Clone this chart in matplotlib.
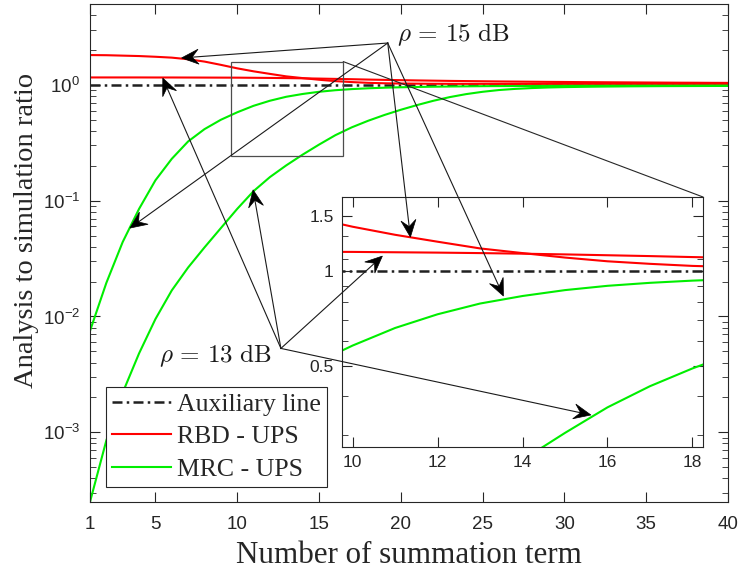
import numpy as np
import matplotlib
matplotlib.use('Agg')
import matplotlib.pyplot as plt
from matplotlib.patches import Rectangle, Polygon, ConnectionPatch
from matplotlib.lines import Line2D
from matplotlib.ticker import FixedLocator, FixedFormatter, LogLocator, NullFormatter

plt.rcParams['font.family'] = ['Liberation Sans', 'DejaVu Sans']
plt.rcParams['mathtext.fontset'] = 'cm'

# ---------------------------------------------------------------- data
terms = np.arange(1, 41)

# RBD - UPS, rho = 15 dB (decreasing one) and rho = 13 dB (flat one)
rbd_15 = [1.81, 1.805, 1.79, 1.775, 1.75, 1.72, 1.665, 1.59, 1.49, 1.39,
          1.31, 1.245, 1.185, 1.145, 1.108, 1.078, 1.058, 1.042, 1.033, 1.028,
          1.025, 1.023, 1.022, 1.021, 1.021, 1.02, 1.02, 1.02, 1.02, 1.02,
          1.02, 1.02, 1.02, 1.02, 1.02, 1.02, 1.02, 1.02, 1.02, 1.02]
rbd_13 = [1.16, 1.16, 1.16, 1.16, 1.159, 1.159, 1.158, 1.157, 1.156, 1.155,
          1.152, 1.149, 1.145, 1.14, 1.134, 1.127, 1.12, 1.112, 1.105, 1.099,
          1.093, 1.088, 1.083, 1.079, 1.075, 1.071, 1.068, 1.065, 1.062, 1.06,
          1.057, 1.055, 1.053, 1.051, 1.049, 1.047, 1.045, 1.044, 1.042, 1.041]

# MRC - UPS
mrc_15 = [0.0075, 0.0195, 0.044, 0.085, 0.15, 0.23, 0.325, 0.415, 0.50, 0.58,
          0.66, 0.73, 0.79, 0.835, 0.872, 0.90, 0.92, 0.935, 0.946, 0.954,
          0.96, 0.965, 0.969, 0.972, 0.975, 0.977, 0.978, 0.979, 0.98, 0.981,
          0.982, 0.982, 0.983, 0.983, 0.984, 0.984, 0.984, 0.985, 0.985, 0.985]
mrc_13 = [0.00025, 0.00085, 0.0022, 0.0048, 0.0095, 0.0168, 0.0265, 0.0395, 0.058, 0.085,
          0.121, 0.16, 0.202, 0.25, 0.305, 0.368, 0.43, 0.49, 0.55, 0.61,
          0.67, 0.73, 0.785, 0.833, 0.872, 0.903, 0.924, 0.939, 0.95, 0.957,
          0.962, 0.966, 0.969, 0.972, 0.974, 0.976, 0.977, 0.978, 0.979, 0.98]

aux = np.ones(len(terms))

legend_labels = ['Auxiliary line', 'RBD - UPS', 'MRC - UPS']
x_ticks = [1, 5, 10, 15, 20, 25, 30, 35, 40]
inset_x_ticks = [10, 12, 14, 16, 18]
inset_y_ticks = [0.5, 1, 1.5]
inset_y_labels = ['0.5', '1', '1.5']

axis_col = '0.15'
serif = ['Liberation Serif', 'DejaVu Serif']

# ---------------------------------------------------------------- figure
fig = plt.figure(figsize=(7.4, 5.76), dpi=100)
ax = fig.add_axes([0.1216, 0.1285, 0.8622, 0.8646])


def draw_curves(a):
    a.plot(terms, aux, color='#202020', lw=1.8, dashes=(4, 1.7, 1, 1.7), label=legend_labels[0])
    a.plot(terms, rbd_15, '-', color='red', lw=1.5, label=legend_labels[1])
    a.plot(terms, rbd_13, '-', color='red', lw=1.5)
    a.plot(terms, mrc_15, '-', color='#00ee00', lw=1.5, label=legend_labels[2])
    a.plot(terms, mrc_13, '-', color='#00ee00', lw=1.5)


def style_axes(a, size):
    a.tick_params(which='both', direction='in', top=True, right=True,
                  color=axis_col, labelcolor=axis_col, labelsize=size)
    a.tick_params(axis='x', pad=10)
    a.tick_params(axis='y', pad=7)
    a.tick_params(which='major', length=7)
    a.tick_params(which='minor', length=4)
    for s in a.spines.values():
        s.set_color(axis_col)
        s.set_linewidth(0.8)


draw_curves(ax)
ax.set_yscale('log')
ax.set_xlim(1, 40)
ax.set_ylim(2.5e-4, 5)
ax.set_xticks(x_ticks)
ax.yaxis.set_major_locator(LogLocator(base=10, numticks=10))
ax.yaxis.set_minor_locator(LogLocator(base=10, subs=np.arange(2, 10), numticks=20))
ax.yaxis.set_minor_formatter(NullFormatter())
style_axes(ax, 13.5)
ax.set_xlabel('Number of summation term', family=serif, fontsize=22.3, color=axis_col, va='top')
ax.xaxis.set_label_coords(0.5, -0.078)
ax.set_ylabel('Analysis to simulation ratio', family=serif, fontsize=20.5, color=axis_col)
ax.yaxis.set_label_coords(-0.080, 0.546)

leg = ax.legend(loc='lower left', bbox_to_anchor=(0.025, 0.030), prop={'family': serif, 'size': 18.5},
                fancybox=False, framealpha=1, edgecolor=axis_col, handlelength=2.3,
                handletextpad=0.2, labelspacing=0.36, borderpad=0.25, borderaxespad=0)
leg.get_frame().set_linewidth(0.8)
for t in leg.get_texts():
    t.set_color(axis_col)

# zoom rectangle
rect = (9.6, 0.241, 16.48, 1.59)
ax.add_patch(Rectangle((rect[0], rect[1]), rect[2] - rect[0], rect[3] - rect[1],
                       fill=False, edgecolor='0.3', lw=0.9, zorder=5))

# ---------------------------------------------------------------- inset
axin = fig.add_axes([0.4622, 0.224, 0.4878, 0.434])
draw_curves(axin)
axin.set_yscale('log')
axin.set_xlim(9.75, 18.25)
axin.set_ylim(0.275, 1.73)
axin.set_xticks(inset_x_ticks)
axin.yaxis.set_major_locator(FixedLocator(inset_y_ticks))
axin.yaxis.set_major_formatter(FixedFormatter(inset_y_labels))
axin.yaxis.set_minor_locator(FixedLocator([0.3, 0.4, 0.6, 0.7, 0.8, 0.9, 1.1, 1.3]))
axin.yaxis.set_minor_formatter(NullFormatter())
style_axes(axin, 12.5)
axin.tick_params(axis='both', pad=6)
axin.set_zorder(3)

con = ConnectionPatch(xyA=(rect[2], rect[3]), coordsA=ax.transData,
                      xyB=(1, 1), coordsB=axin.transAxes, color='0.15', lw=0.8)
fig.add_artist(con)

# ---------------------------------------------------------------- annotations
to_fig = fig.transFigure.inverted()


def arrow(src, tip_ax, tip):
    p0 = ax.transData.transform(src)
    p1 = tip_ax.transData.transform(tip)
    u = (p1 - p0) / np.hypot(*(p1 - p0))
    n = np.array([-u[1], u[0]])
    L, W = 17, 7.5
    head = [p1, p1 - L * u + W * n, p1 - 0.62 * L * u, p1 - L * u - W * n]
    line = to_fig.transform([p0, p1 - 0.62 * L * u])
    fig.add_artist(Line2D(line[:, 0], line[:, 1], color='0.1', lw=0.8,
                          transform=fig.transFigure, zorder=10))
    fig.add_artist(Polygon(to_fig.transform(head), closed=True, facecolor='black',
                           edgecolor='black', lw=0.5, transform=fig.transFigure, zorder=11))


src_15 = (19.2, 2.30)
src_13 = (12.67, 0.0053)
arrow(src_15, ax, (6.6, 1.71))
arrow(src_15, ax, (3.44, 0.058))
arrow(src_15, axin, (11.36, 1.288))
arrow(src_15, axin, (13.55, 0.835))
arrow(src_13, ax, (5.45, 1.145))
arrow(src_13, ax, (10.97, 0.124))
arrow(src_13, axin, (10.7, 1.12))
arrow(src_13, axin, (15.61, 0.348))

ax.text(23.2, 2.7, r'$\rho\,=\,15\ \mathrm{dB}$', fontsize=18, ha='center', va='center', color='0.1')
ax.text(8.64, 0.00455, r'$\rho\,=\,13\ \mathrm{dB}$', fontsize=18, ha='center', va='center', color='0.1')

fig.savefig('out.png', dpi=100)
